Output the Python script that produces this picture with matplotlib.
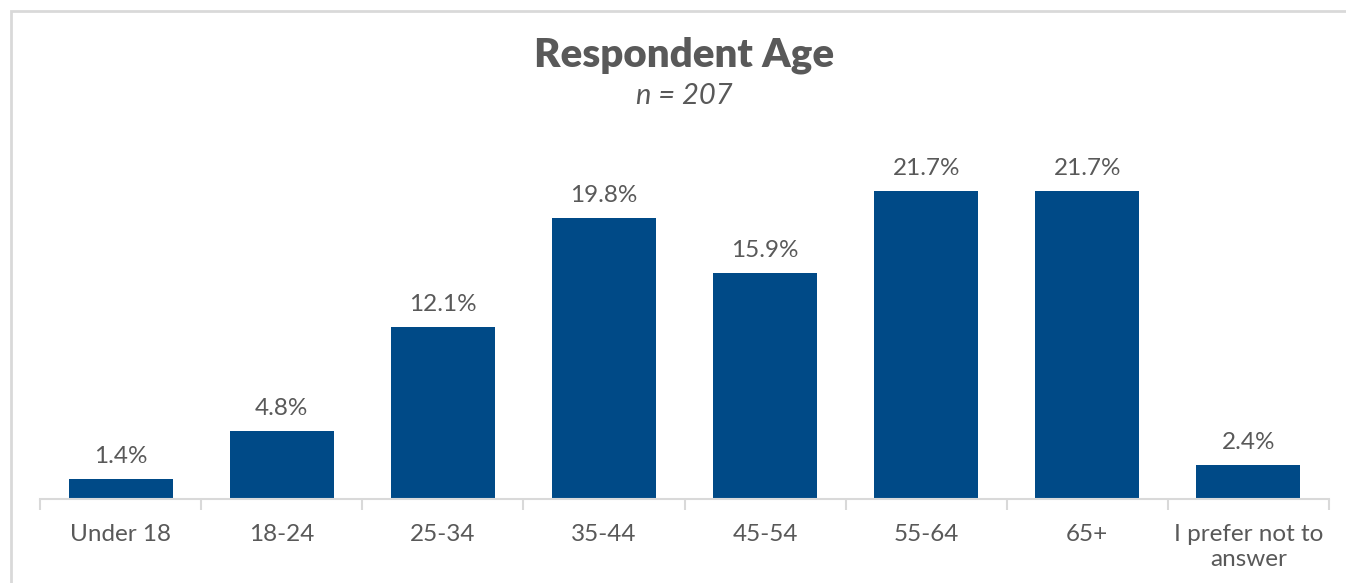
import numpy as np
import matplotlib.pyplot as plt
from matplotlib.patches import Rectangle

categories = ['Under 18', '18-24', '25-34', '35-44', '45-54', '55-64', '65+',
              'I prefer not to\nanswer']
percents = [1.4, 4.8, 12.1, 19.8, 15.9, 21.7, 21.7, 2.4]

BAR = '#004a87'
TEXT = '#595959'
GRID = '#d9d9d9'

plt.rcParams['font.family'] = ['Lato', 'DejaVu Sans']

W, H = 1346, 583
fig = plt.figure(figsize=(W / 100, H / 100), dpi=100)

# light frame around the chart area (open on the right and bottom)
fig.patches.append(Rectangle((11 / W, -0.1), 2.0, 1.1 - 11 / H, transform=fig.transFigure,
                             fill=False, edgecolor=GRID, linewidth=2))

ax = fig.add_axes([40 / W, 1 - 499 / H, (1329 - 40) / W, 355 / H])
x = np.arange(len(categories))
bars = ax.bar(x, percents, width=0.645, color=BAR)
for b, v in zip(bars, percents):
    ax.text(b.get_x() + b.get_width() / 2, v + 0.85, f'{v:.1f}%',
            ha='center', va='bottom', fontsize=17.5, color=TEXT)

ax.set_xlim(-0.5, len(categories) - 0.5)
ax.set_ylim(0, 25)
ax.set_yticks([])
for s in ['top', 'right', 'left']:
    ax.spines[s].set_visible(False)
ax.spines['bottom'].set_color(GRID)
ax.spines['bottom'].set_linewidth(1.5)

ax.set_xticks(x)
ax.set_xticklabels(categories, fontsize=17.5, color=TEXT, linespacing=1.25)
ax.tick_params(axis='x', length=0, pad=18)
ax.set_xticks(np.arange(len(categories) + 1) - 0.5, minor=True)
ax.tick_params(axis='x', which='minor', length=8, width=1.5, color=GRID)

cx = (40 + 1329) / 2 / W
fig.text(cx, 1 - 55 / H, 'Respondent Age', ha='center', va='center',
         fontsize=29, fontweight='heavy', color=TEXT)
fig.text(cx, 1 - 96 / H, 'n = 207', ha='center', va='center',
         fontsize=21, style='italic', color=TEXT)

fig.savefig('out.png', dpi=100)
